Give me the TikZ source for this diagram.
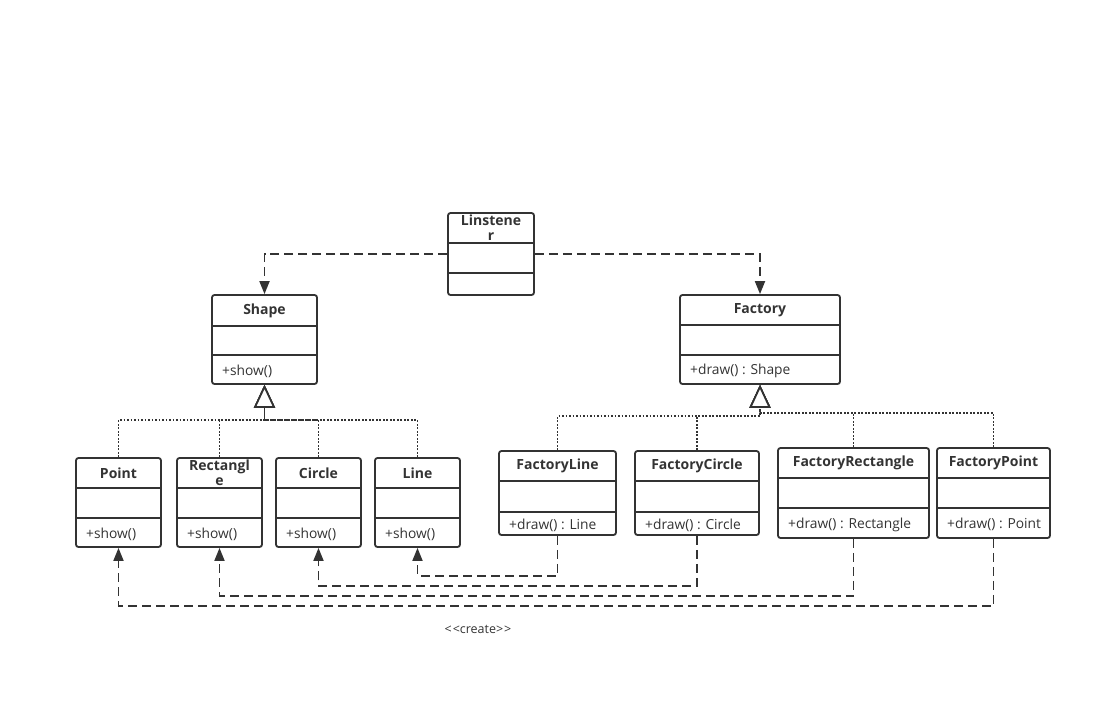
\documentclass[tikz,border=0pt]{standalone}
\usepackage{fontspec}
\setmainfont{Open Sans}
\usetikzlibrary{arrows.meta}
\definecolor{umlgray}{RGB}{51,51,51}
% class box: name, left, top, right, bottom, divider 1, divider 2, title, operation
\newcommand{\umlclass}[9]{%
  \node[classbox, minimum width={(#4-#2)*1pt}, minimum height={(#5-#3)*1pt}] (#1) at ({(#2+#4)/2},{(#3+#5)/2}) {};
  \draw[classline] (#2,#6) -- (#4,#6) (#2,#7) -- (#4,#7);
  \node[classname] at ({(#2+#4)/2},{(#3+#6)/2}) {#8};
  \node[classop] at ({#2+10},{(#7+#5)/2+1.5}) {#9};
}
\tikzset{
  classbox/.style={draw=umlgray, line width=1.8pt, rounded corners=2.5pt, inner sep=0pt},
  classline/.style={draw=umlgray, line width=1.8pt},
  classname/.style={text=umlgray, font=\bfseries\fontsize{14}{15}\selectfont, align=center, inner sep=0pt},
  classop/.style={text=umlgray, font=\fontsize{13.8}{15}\selectfont, anchor=west, inner sep=0pt},
  dep/.style={draw=umlgray, line width=1.8pt, dash pattern=on 9pt off 5pt, -{Triangle[length=13pt,width=10pt]}},
  impl/.style={draw=umlgray, line width=1.7pt, dash pattern=on 1.7pt off 1.8pt, -{Triangle[open,fill=white,length=23pt,width=21pt]}}
}
\begin{document}
\begin{tikzpicture}[x=1pt,y=-1pt]
  \useasboundingbox (0,0) rectangle (1111,710);
  \umlclass{lin}{448}{213}{534}{295}{243}{273}{Linstene\\r}{}
  \umlclass{shape}{212}{295}{317}{384}{326}{355}{Shape}{+show()}
  \umlclass{factory}{680}{295}{840}{384}{325}{355}{Factory}{+draw() : Shape}
  \umlclass{point}{76}{458}{161}{547}{488}{518}{Point}{+show()}
  \umlclass{rect}{177}{458}{262}{547}{488}{518}{Rectangl\\e}{+show()}
  \umlclass{circle}{276}{458}{361}{547}{488}{518}{Circle}{+show()}
  \umlclass{line}{375}{458}{460}{547}{488}{518}{Line}{+show()}
  \umlclass{fline}{499}{451}{616}{535}{481}{512}{FactoryLine}{+draw() : Line}
  \umlclass{fcircle}{635}{451}{759}{535}{481}{512}{FactoryCircle}{+draw() : Circle}
  \umlclass{frect}{778}{448}{929}{538}{478}{508}{FactoryRectangle}{+draw() : Rectangle}
  \umlclass{fpoint}{937}{448}{1050}{538}{478}{508}{FactoryPoint}{+draw() : Point}

  \draw[dep] (lin.west) -| (shape.north);
  \draw[dep] (lin.east) -| (factory.north);

  \begin{scope}[impl]
    \draw (point.north) -- ++(0,-37) -| (shape.south);
    \draw (rect.north) -- ++(0,-37) -| (shape.south);
    \draw (circle.north) -- ++(0,-37) -| (shape.south);
    \draw (line.north) -- ++(0,-37) -| (shape.south);
    \draw (fline.north) -- ++(0,-34) -| (factory.south);
    \draw (fcircle.north) -- ++(0,-34) -| (factory.south);
    \draw (frect.north) -- ++(0,-34) -| (factory.south);
    \draw (fpoint.north) -- ++(0,-34) -| (factory.south);
  \end{scope}

  \begin{scope}[dep]
    \draw (fline.south) -- ++(0,40) -| (line.south);
    \draw (fcircle.south) -- ++(0,50) -| (circle.south);
    \draw (frect.south) -- ++(0,57) -| (rect.south);
    \draw (fpoint.south) -- ++(0,67) -| (point.south);
  \end{scope}
  \node[text=umlgray, font=\fontsize{12.5}{14}\selectfont] (create) at (478,629) {<\kern1pt{}<create>\kern1pt{}>};
\end{tikzpicture}
\end{document}
